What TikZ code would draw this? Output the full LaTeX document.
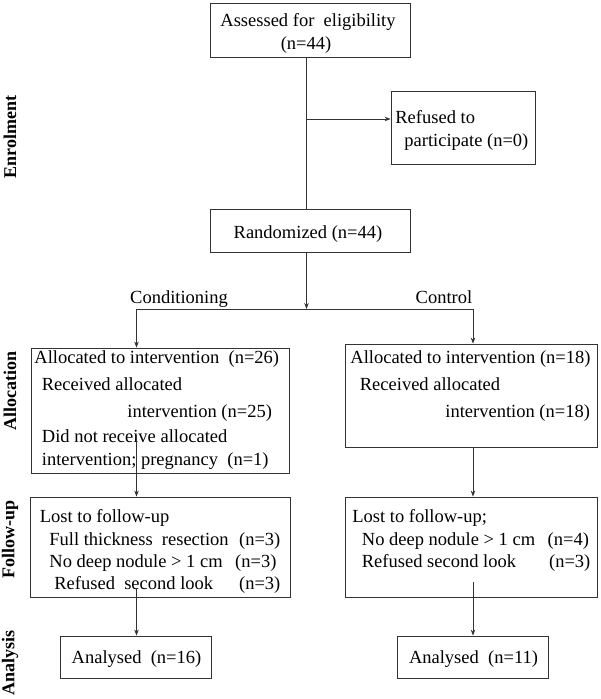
\documentclass[tikz,border=0pt]{standalone}
\usepackage{fontspec}
\setmainfont{Liberation Serif}
\usetikzlibrary{arrows.meta}

\tikzset{
  box/.style={draw=black!80,line width=0.8pt,inner sep=0pt},
  txt/.style={anchor=base west,inner sep=0pt},
  ctxt/.style={anchor=base,inner sep=0pt},
  phase/.style={rotate=90,inner sep=0pt,font=\fontsize{18}{20}\selectfont\bfseries},
}

\begin{document}
\begin{tikzpicture}[x=1pt,y=-1pt,>={Stealth[length=6pt,width=4.5pt]},
  font=\fontsize{18.5}{23}\selectfont,line width=0.8pt]
			\useasboundingbox (0,0) rectangle (600,699);

			% boxes
			\node[box,minimum width=200pt,minimum height=54pt] (assess) at (310,30) {};
			\node[box,minimum width=144pt,minimum height=73pt] (refused) at (463,127.5) {};
			\node[box,minimum width=200pt,minimum height=43pt] (random) at (310,230.5) {};
			\node[box,minimum width=258pt,minimum height=125pt] (allocL) at (160,410.5) {};
			\node[box,minimum width=252pt,minimum height=103pt] (allocR) at (471,395.5) {};
			\node[box,minimum width=260pt,minimum height=100pt] (fuL) at (160,547) {};
			\node[box,minimum width=252pt,minimum height=100pt] (fuR) at (471,547) {};
			\node[box,minimum width=151pt,minimum height=42pt] (anaL) at (135.5,657) {};
			\node[box,minimum width=151pt,minimum height=42pt] (anaR) at (473,657) {};

			% texts
			\node[ctxt] (assess_a) at (308,26) {Assessed for\ \ eligibility};
			\node[ctxt] (assess_b) at (306,49) {(n=44)};
			\node[txt] (refused_a) at (395,123) {Refused to};
			\node[txt] (refused_b) at (404,146) {participate (n=0)};
			\node[ctxt] (random_a) at (308,238) {Randomized (n=44)};
			\node[ctxt] (cond) at (179,303) {Conditioning};
			\node[ctxt] (ctrl) at (444,303) {Control};

			\node[txt] (allocL_a) at (34,363) {Allocated to intervention\ \ (n=26)};
			\node[txt] (allocL_b) at (41.5,390) {Received allocated};
			\node[txt] (allocL_c) at (127,417) {intervention (n=25)};
			\node[txt] (allocL_d) at (41.5,442) {Did not receive allocated};
			\node[txt] (allocL_e) at (41.5,465.5) {intervention;\ pregnancy\ \ (n=1)};

			\node[txt] (allocR_a) at (350,363) {Allocated to intervention (n=18)};
			\node[txt] (allocR_b) at (359.5,390) {Received allocated};
			\node[txt] (allocR_c) at (445,417) {intervention (n=18)};

			\node[txt] (fuL_a) at (39.5,522) {Lost to follow-up};
			\node[txt] (fuL_b) at (49,545) {\makebox[231pt][l]{Full thickness\ \ resection\hfill(n=3)}};
			\node[txt] (fuL_c) at (49,567) {\makebox[227pt][l]{No deep nodule > 1 cm\hfill(n=3)}};
			\node[txt] (fuL_d) at (54,589) {\makebox[226pt][l]{Refused\ \ second look\hfill(n=3)}};

			\node[txt] (fuR_a) at (352,522) {Lost to follow-up;};
			\node[txt] (fuR_b) at (361.5,545) {\makebox[227pt][l]{No deep nodule > 1 cm\hfill(n=4)}};
			\node[txt] (fuR_c) at (361.5,567) {\makebox[228.5pt][l]{Refused second look\hfill(n=3)}};

			\node[ctxt] (anaL_a) at (136.5,663) {Analysed\ \ (n=16)};
			\node[ctxt] (anaR_a) at (473.5,663) {Analysed\ \ (n=11)};

			% phase labels
			\node[phase] (enrol) at (10,137) {Enrolment};
			\node[phase] (alloc) at (10,391) {Allocation};
			\node[phase] (follow) at (10,539) {Follow-up};
			\node[phase] (analysis) at (10,663) {Analysis};

			% connectors
			\coordinate (split) at (306.5,119);
			\coordinate (fork) at (306.5,309);
			\coordinate (forkL) at (136.5,309);
			\coordinate (forkR) at (473,309);
			\coordinate (downL) at (136.5,435);
			\coordinate (downL2) at (136.5,588);
			\coordinate (downR2) at (473,582);

			\draw[black!80] (assess.south -| split) -- (random.north -| split);
			\draw[black!80,->] (split) -- (split -| refused.west);
			\draw[black!80,->] (random.south -| fork) -- (fork);
			\draw[black!80] (forkL) -- (forkR);
			\draw[black!80,->] (forkL) -- (forkL |- allocL.north);
			\draw[black!80,->] (forkR) -- (forkR |- allocR.north);
			\draw[black!80,->] (downL) -- (downL |- fuL.north);
			\draw[black!80,->] (forkR |- allocR.south) -- (forkR |- fuR.north);
			\draw[black!80,->] (downL2) -- (downL2 |- anaL.north);
			\draw[black!80,->] (downR2) -- (downR2 |- anaR.north);
		\end{tikzpicture}
\end{document}
